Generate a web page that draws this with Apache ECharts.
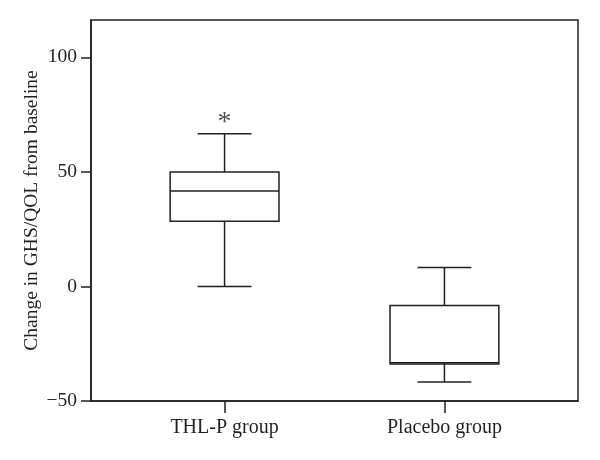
<!DOCTYPE html>
<html>
<head>
<meta charset="utf-8">
<script src="https://cdn.jsdelivr.net/npm/echarts@6/dist/echarts.min.js"></script>
<style>
  html, body { margin: 0; padding: 0; background: #fff; }
  #chart { width: 600px; height: 460px; }
</style>
</head>
<body>
<div id="chart"></div>
<script>
// groups on the x axis
const categories = ['THL-P group', 'Placebo group']
// five-number summaries: [min, Q1, median, Q3, max]
const thlStats = [0, 28.5, 41.7, 50, 66.7]
const placeboStats = [-41.7, -33.8, -33.3, -8.3, 8.3]
// significance marker above the THL-P whisker
const starValues = [74, null]
const yTicks = [-50, 0, 50, 100]

const ink = '#231f20'
const serif = '"Liberation Serif", "DejaVu Serif", serif'

const chart = echarts.init(document.getElementById('chart'))

// box drawn by hand so the whisker caps can be half the box width
const renderBox = (params, api) => {
  const x = api.value(0)
  const lo = api.coord([x, api.value(1)])
  const q1 = api.coord([x, api.value(2)])
  const med = api.coord([x, api.value(3)])
  const q3 = api.coord([x, api.value(4)])
  const hi = api.coord([x, api.value(5)])
  const boxW = api.size([0.495, 0])[0]
  const capW = api.size([0.245, 0])[0]
  const cx = lo[0]
  const style = { stroke: ink, lineWidth: 1.5, fill: null }
  const line = (x1, y1, x2, y2) => ({
    type: 'line',
    shape: { x1, y1, x2, y2 },
    style
  })
  return {
    type: 'group',
    children: [
      {
        type: 'rect',
        shape: { x: cx - boxW / 2, y: q3[1], width: boxW, height: q1[1] - q3[1] },
        style: { stroke: ink, lineWidth: 1.5, fill: '#fff' }
      },
      line(cx - boxW / 2, med[1], cx + boxW / 2, med[1]),
      line(cx, q3[1], cx, hi[1]),
      line(cx, q1[1], cx, lo[1]),
      line(cx - capW / 2, hi[1], cx + capW / 2, hi[1]),
      line(cx - capW / 2, lo[1], cx + capW / 2, lo[1])
    ]
  }
}

const boxData = [thlStats, placeboStats].map((s, i) => [i + 1, ...s])
const starData = starValues
  .map((v, i) => (v == null ? null : [i + 1, v]))
  .filter(d => d)

const option = {
  backgroundColor: '#fff',
  animation: false,
  grid: {
    left: 91,
    right: 22,
    top: 20,
    bottom: 59,
    show: true,
    borderColor: ink,
    borderWidth: 1.5
  },
  xAxis: {
    type: 'value',
    min: 0.3925,
    max: 2.6075,
    splitLine: { show: false },
    axisLine: { show: true, onZero: false, lineStyle: { color: ink, width: 1.5 } },
    axisTick: {
      show: true,
      length: 12,
      customValues: [1, 2],
      lineStyle: { color: ink, width: 1.5 }
    },
    axisLabel: {
      customValues: [1, 2],
      margin: 17,
      color: ink,
      fontFamily: serif,
      fontSize: 20,
      formatter: v => categories[Math.round(v) - 1] || ''
    }
  },
  yAxis: {
    type: 'value',
    min: -50,
    max: 116.3,
    name: 'Change in GHS/QOL from baseline',
    nameLocation: 'middle',
    nameGap: 49,
    nameMoveOverlap: false,
    nameTextStyle: { color: ink, fontFamily: serif, fontSize: 19.5 },
    splitLine: { show: false },
    axisLine: { show: true, onZero: false, lineStyle: { color: ink, width: 1.5 } },
    axisTick: {
      show: true,
      length: 10,
      customValues: yTicks,
      lineStyle: { color: ink, width: 1.5 }
    },
    axisLabel: {
      customValues: yTicks,
      margin: 14,
      color: ink,
      fontFamily: serif,
      fontSize: 19.5,
      formatter: v => String(v).replace('-', '\u2212')
    }
  },
  series: [
    {
      type: 'custom',
      renderItem: renderBox,
      data: boxData,
      encode: { x: 0, y: [1, 2, 3, 4, 5] },
      z: 3
    },
    {
      type: 'scatter',
      data: starData,
      symbolSize: 0,
      label: {
        show: true,
        position: 'inside',
        offset: [0, 6],
        formatter: '*',
        color: ink,
        fontFamily: serif,
        fontSize: 28
      },
      z: 4
    }
  ]
}

chart.setOption(option)
</script>
</body>
</html>
